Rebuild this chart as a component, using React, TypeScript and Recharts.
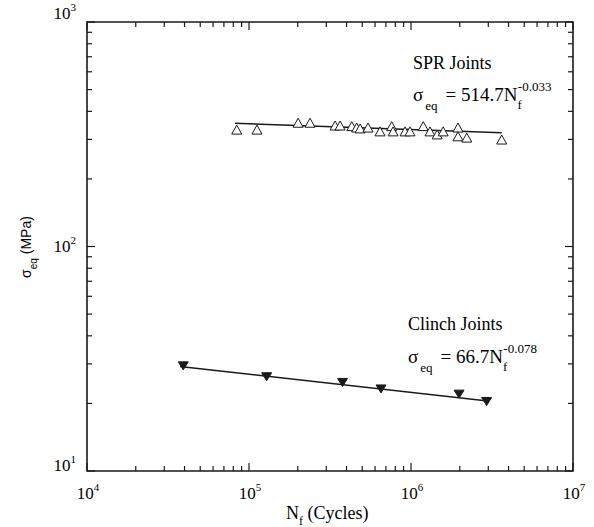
import { ScatterChart, Scatter, XAxis, YAxis, ReferenceArea } from 'recharts';

// SPR joints (open triangles)
const SPR_N = [84000, 112000, 201000, 238000, 340000, 365000, 431000, 462000, 485000, 543000, 644000, 760000, 775000, 919000, 986000, 1190000, 1310000, 1450000, 1580000, 1950000, 1950000, 2210000, 3630000];
const SPR_S = [330, 330, 354, 354, 344, 344, 342, 337, 334, 337, 324, 342, 324, 324, 324, 342, 324, 314, 324, 337, 308, 304, 298];

// Clinch joints (filled triangles)
const CLINCH_N = [39300, 128500, 378000, 653000, 1980000, 2930000];
const CLINCH_S = [29.4, 26.3, 24.8, 23.2, 22.0, 20.4];

// fitted power-law lines, end points
const SPR_FIT_N = [81900, 3630000];
const SPR_FIT_S = [354, 321];
const CLINCH_FIT_N = [37500, 2980000];
const CLINCH_FIT_S = [29.2, 20.5];

// axis ticks
const X_MAJOR = [1e4, 1e5, 1e6, 1e7];
const Y_MAJOR = [10, 100, 1000];
const MINOR_MULT = [2, 3, 4, 5, 6, 7, 8, 9];

const X_TICKS = X_MAJOR.flatMap((d, i) => (i < X_MAJOR.length - 1 ? [d, ...MINOR_MULT.map((m) => d * m)] : [d]));
const Y_TICKS = Y_MAJOR.flatMap((d, i) => (i < Y_MAJOR.length - 1 ? [d, ...MINOR_MULT.map((m) => d * m)] : [d]));

const toPoints = (ns: number[], ss: number[]) => ns.map((n, i) => ({ n, s: ss[i] }));

const sprData = toPoints(SPR_N, SPR_S);
const clinchData = toPoints(CLINCH_N, CLINCH_S);
const sprFit = toPoints(SPR_FIT_N, SPR_FIT_S);
const clinchFit = toPoints(CLINCH_FIT_N, CLINCH_FIT_S);

// plot box (matches chart margins below)
const LEFT = 87;
const RIGHT = 573;
const TOP = 22;
const BOTTOM = 471;

const SERIF = '"Liberation Serif", "Times New Roman", serif';
const SANS = '"Liberation Sans", Arial, sans-serif';
const INK = '#1a1a1a';

const isMajor = (v: number) => Math.abs(Math.log10(v) - Math.round(Math.log10(v))) < 1e-9;

const XTick = (props: any) => {
  const { x, payload } = props;
  const v = payload.value;
  const major = isMajor(v);
  const len = major ? 8 : 5;
  return (
    <g>
      <line x1={x} x2={x} y1={BOTTOM} y2={BOTTOM - len} stroke={INK} strokeWidth={1.2} />
      <line x1={x} x2={x} y1={TOP} y2={TOP + len} stroke={INK} strokeWidth={1.2} />
      {major && (
        <text x={x + 1} y={499} textAnchor="middle" fontFamily={SERIF} fontSize={17} fill="#000">
          10<tspan dy={-8} fontSize={11}>{Math.round(Math.log10(v))}</tspan>
        </text>
      )}
    </g>
  );
};

const Y_LABEL_BASE: Record<number, number> = { 10: 471, 100: 252, 1000: 19 };

const YTick = (props: any) => {
  const { y, payload } = props;
  const v = payload.value;
  const major = isMajor(v);
  const len = major ? 8 : 5;
  return (
    <g>
      <line x1={LEFT} x2={LEFT + len} y1={y} y2={y} stroke={INK} strokeWidth={1.2} />
      <line x1={RIGHT} x2={RIGHT - len} y1={y} y2={y} stroke={INK} strokeWidth={1.2} />
      {major && (
        <text x={76} y={Y_LABEL_BASE[v]} textAnchor="end" fontFamily={SERIF} fontSize={17} fill="#000">
          10<tspan dy={-8} fontSize={11}>{Math.round(Math.log10(v))}</tspan>
        </text>
      )}
    </g>
  );
};

const OpenTriangle = (props: any) => {
  const { cx, cy } = props;
  return (
    <path
      d={`M${cx},${cy - 5} L${cx + 5},${cy + 4} L${cx - 5},${cy + 4} Z`}
      fill="#fff"
      stroke={INK}
      strokeWidth={1}
    />
  );
};

const FilledTriangle = (props: any) => {
  const { cx, cy } = props;
  return <path d={`M${cx - 5},${cy - 4} L${cx + 5},${cy - 4} L${cx},${cy + 4} Z`} fill={INK} stroke={INK} strokeWidth={1} />;
};

const NoDot = () => <g />;

const Equation = ({ x, y, coef, exp }: { x: number; y: number; coef: string; exp: string }) => (
  <text x={x} y={y} fontSize={19}>
    σ<tspan dx={2} dy={9} fontSize={13}>eq</tspan>
    <tspan dx={8} dy={-9}>= {coef}N</tspan>
    <tspan dy={8} fontSize={13}>f</tspan>
    <tspan dx={-4} dy={-18} fontSize={13}>{exp}</tspan>
  </text>
);

const Annotations = () => (
  <g fontFamily={SERIF} fill="#000">
    <text x={413} y={69} fontSize={18}>SPR Joints</text>
    <Equation x={413} y={101} coef="514.7" exp="-0.033" />
    <text x={408} y={330} fontSize={18}>Clinch Joints</text>
    <Equation x={408} y={363} coef="66.7" exp="-0.078" />
  </g>
);

const XLabel = () => (
  <text x={286} y={519} fontFamily={SERIF} fontSize={18} fill="#000">
    N<tspan dy={6} fontSize={12}>f</tspan>
    <tspan dy={-6}> (Cycles)</tspan>
  </text>
);

const YLabel = () => (
  <text transform="translate(31,247) rotate(-90)" textAnchor="middle" fontFamily={SANS} fontSize={14} fill="#000">
    σ<tspan dy={6} fontSize={10}>eq</tspan>
    <tspan dy={-6}> (MPa)</tspan>
  </text>
);

export default function App() {
  return (
    <div style={{ position: 'absolute', left: 0, top: 0, width: 594, height: 527, background: '#fff' }}>
      <ScatterChart width={594} height={527} margin={{ top: TOP, right: 594 - RIGHT, bottom: 0, left: 27 }}>
        <XAxis
          dataKey="n"
          type="number"
          scale="log"
          domain={[1e4, 1e7]}
          ticks={X_TICKS}
          interval={0}
          allowDataOverflow
          height={527 - BOTTOM}
          axisLine={false}
          tickLine={false}
          tick={<XTick />}
          label={{ content: () => <XLabel /> }}
        />
        <YAxis
          dataKey="s"
          type="number"
          scale="log"
          domain={[10, 1000]}
          ticks={Y_TICKS}
          interval={0}
          allowDataOverflow
          width={LEFT - 27}
          axisLine={false}
          tickLine={false}
          tick={<YTick />}
          label={{ content: () => <YLabel /> }}
        />
        <Scatter data={sprFit} line={{ stroke: INK, strokeWidth: 1.4 }} shape={<NoDot />} isAnimationActive={false} />
        <Scatter data={clinchFit} line={{ stroke: INK, strokeWidth: 1.4 }} shape={<NoDot />} isAnimationActive={false} />
        <Scatter data={sprData} shape={<OpenTriangle />} isAnimationActive={false} />
        <Scatter data={clinchData} shape={<FilledTriangle />} isAnimationActive={false} />
        <ReferenceArea
          x1={1e4}
          x2={1e7}
          y1={10}
          y2={1000}
          fill="none"
          stroke={INK}
          strokeWidth={1.6}
          label={{ content: () => <Annotations /> }}
        />
      </ScatterChart>
    </div>
  );
}
